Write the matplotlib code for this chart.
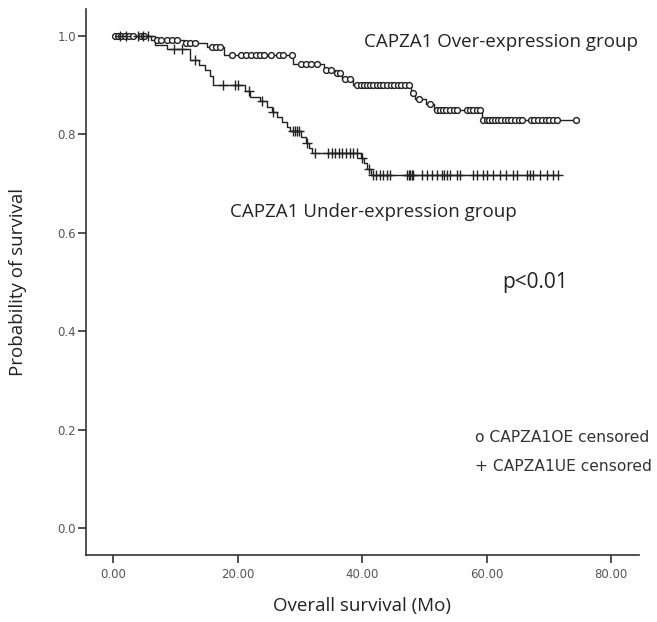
import numpy as np
import matplotlib
matplotlib.use("Agg")
import matplotlib.pyplot as plt

# Kaplan-Meier step points (time in months, survival)
oe_times = [0, 6.0, 11.3, 15.0, 17.8, 28.9, 33.8, 35.6, 36.8, 38.6, 47.9, 48.5, 50.2, 51.5, 59.2]
oe_surv = [1.0, 0.992, 0.986, 0.978, 0.962, 0.943, 0.931, 0.924, 0.913, 0.900,
           0.885, 0.872, 0.862, 0.850, 0.829]
oe_end = 74.4

ue_times = [0, 6.7, 8.6, 12.3, 13.7, 14.7, 15.5, 16.1, 21.2, 22.0, 23.6, 24.7, 25.5,
            26.3, 27.1, 27.9, 28.4, 30.1, 30.9, 31.5, 32.0, 39.8, 40.3, 40.8, 41.4]
ue_surv = [1.0, 0.982, 0.974, 0.952, 0.942, 0.932, 0.918, 0.901, 0.888, 0.877, 0.867,
           0.856, 0.846, 0.836, 0.826, 0.816, 0.806, 0.794, 0.783, 0.772, 0.762,
           0.752, 0.742, 0.730, 0.718]
ue_end = 71.5

# censored observations
oe_cens = [0.3, 0.8, 1.3, 1.8, 2.5, 3.2, 4.4, 5.0, 7.0, 7.6, 8.6, 9.4, 10.2, 11.6,
           12.3, 13.2, 15.9, 16.5, 17.2, 19.0, 20.6, 21.3, 22.1, 22.9, 23.6, 24.3,
           25.3, 26.7, 27.3, 28.7, 30.1, 31.0, 31.8, 32.7, 34.2, 35.0, 36.0, 36.5,
           37.3, 38.0, 39.2, 39.8, 40.3, 40.8, 41.3, 41.8, 42.4, 42.9, 43.4, 44.0,
           44.6, 45.2, 45.8, 46.3, 46.9, 47.5, 48.2, 49.2, 50.9, 52.0, 52.5, 53.0,
           53.5, 54.1, 54.7, 55.3, 56.8, 57.3, 57.9, 58.5, 59.0, 59.5, 60.0, 60.4,
           60.9, 61.4, 61.9, 62.4, 62.9, 63.5, 64.0, 64.6, 65.2, 65.7, 67.2, 67.7,
           68.3, 68.9, 69.5, 70.1, 70.7, 71.3, 74.4]
ue_cens = [1.0, 2.0, 4.0, 4.8, 5.5, 9.7, 11.0, 13.2, 17.6, 19.5, 20.1, 21.8, 23.9,
           25.6, 28.9, 29.2, 29.5, 29.8, 31.2, 32.5, 34.5, 35.1, 35.7, 36.2, 36.8,
           37.4, 38.0, 38.6, 39.2, 40.0, 41.1, 41.8, 42.3, 42.9, 43.4, 44.0, 44.5,
           47.2, 47.5, 47.7, 48.0, 48.2, 49.6, 50.4, 51.2, 52.0, 52.8, 53.1, 53.6,
           54.1, 55.2, 55.7, 57.9, 58.4, 59.5, 60.0, 61.1, 62.2, 63.2, 64.3, 64.9,
           66.5, 67.0, 67.5, 68.6, 69.7, 70.7, 71.5]

xticks = [0, 20, 40, 60, 80]
yticks = [0.0, 0.2, 0.4, 0.6, 0.8, 1.0]

line_col = "#222222"


def surv_at(times, surv, t):
    idx = np.searchsorted(times, t, side="right") - 1
    return np.array(surv)[idx]


fig = plt.figure(figsize=(6.57, 6.22), dpi=100)
ax = fig.add_axes([0.1305, 0.1077, 0.842, 0.8778])

for times, surv, end in [(oe_times, oe_surv, oe_end), (ue_times, ue_surv, ue_end)]:
    ax.step(list(times) + [end], list(surv) + [surv[-1]], where="post",
            color=line_col, lw=1.0)

ax.plot(oe_cens, surv_at(oe_times, oe_surv, oe_cens), linestyle="none", marker="o",
        ms=4.2, mfc="white", mec=line_col, mew=1.0)
ax.plot(ue_cens, surv_at(ue_times, ue_surv, ue_cens), linestyle="none", marker="+",
        ms=6.5, mec=line_col, mew=1.0)

ax.set_xlim(-4.44, 84.5)
ax.set_ylim(-0.055, 1.055)
ax.set_xticks(xticks)
ax.set_xticklabels([f"{v:.2f}" for v in xticks])
ax.set_yticks(yticks)
ax.set_yticklabels([f"{v:.1f}" for v in yticks])

for s in ["top", "right"]:
    ax.spines[s].set_visible(False)
for s in ["left", "bottom"]:
    ax.spines[s].set_color("#333333")
    ax.spines[s].set_linewidth(1.2)
ax.tick_params(direction="out", length=6, width=1.2, color="#333333",
               labelsize=8.5, labelcolor="#555555")
ax.tick_params(axis="x", pad=3)
ax.tick_params(axis="y", pad=1)

lab_font = "Open Sans"
ax.set_xlabel("Overall survival (Mo)", fontsize=13.5, family=lab_font, color="#222222",
              labelpad=12)
ax.set_ylabel("Probability of survival", fontsize=13.5, family=lab_font, color="#222222",
              labelpad=22)

ax.text(62.3, 0.988, "CAPZA1 Over-expression group", fontsize=13.5, family=lab_font,
        ha="center", va="center", color="#222222")
ax.text(41.8, 0.642, "CAPZA1 Under-expression group", fontsize=13.5, family=lab_font,
        ha="center", va="center", color="#222222")
ax.text(67.8, 0.498, "p<0.01", fontsize=15, family=lab_font,
        ha="center", va="center", color="#222222")
ax.text(58.2, 0.183, "o CAPZA1OE censored", fontsize=11.2, ha="left", va="center",
        color="#333333")
ax.text(58.2, 0.124, "+ CAPZA1UE censored", fontsize=11.2, ha="left", va="center",
        color="#333333")

fig.savefig("out.png", dpi=100)
